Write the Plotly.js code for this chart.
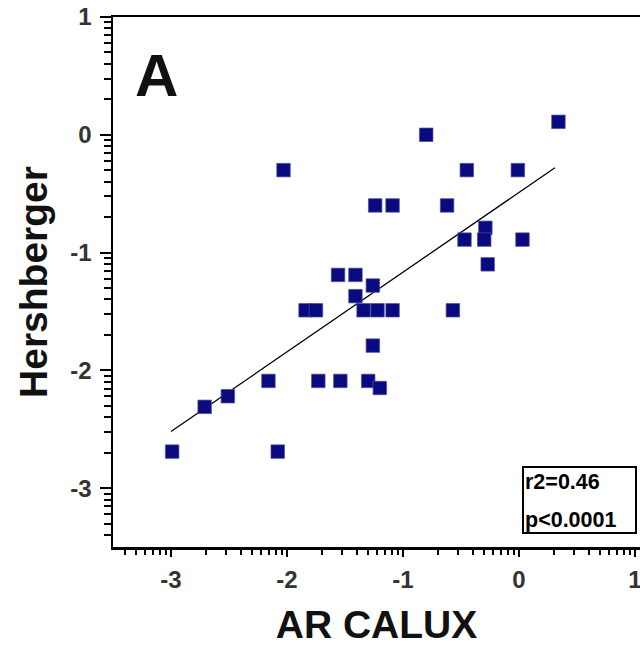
<!DOCTYPE html>
<html>
<head>
<meta charset="utf-8">
<script src="https://cdn.plot.ly/plotly-3.0.1.min.js"></script>
<style>html,body{margin:0;padding:0;background:#fff;}#chart{width:640px;height:646px;}</style>
</head>
<body>
<div id="chart"></div>
<script>
// Data
const calux = [0.34, -0.80, -2.03, -0.45, -0.01, -1.24, -1.09, -0.62, -0.29, -0.30, -0.47, 0.03, -0.27,
               -1.56, -1.41, -1.26, -1.41, -1.84, -1.75, -1.34, -1.22, -1.09, -0.57, -1.26,
               -2.16, -1.73, -1.54, -1.30, -1.20, -2.71, -2.51, -2.99, -2.08];
const hershberger = [0.11, 0.00, -0.30, -0.30, -0.30, -0.60, -0.60, -0.60, -0.79, -0.89, -0.89, -0.89, -1.10,
               -1.19, -1.19, -1.28, -1.37, -1.49, -1.49, -1.49, -1.49, -1.49, -1.49, -1.79,
               -2.09, -2.09, -2.09, -2.09, -2.15, -2.31, -2.22, -2.69, -2.69];
const fitX = [-3.00, 0.31];
const fitY = [-2.52, -0.28];
const xTicks = [-3, -2, -1, 0, 1];
const yTicks = [-3, -2, -1, 0, 1];
const statLines = ["r2=0.46", "p<0.0001"];
const panelLabel = "A";

function logMinor(lo, hi) {
  const out = [];
  for (let n = Math.floor(lo) - 1; n <= Math.ceil(hi); n++) {
    for (let k = 2; k <= 9; k++) {
      const v = n + Math.log10(k);
      if (v >= lo && v <= hi) out.push(v);
    }
  }
  return out;
}

const xRange = [-3.5, 1.043];
const yRange = [-3.5, 1.0];

const traces = [
  {
    x: fitX, y: fitY, type: 'scatter', mode: 'lines',
    line: {color: '#000', width: 1.3}, hoverinfo: 'skip', showlegend: false
  },
  {
    x: calux, y: hershberger, type: 'scatter', mode: 'markers',
    marker: {symbol: 'square', size: 13.5, color: '#0a0a80', line: {color: 'rgba(80,80,150,0.7)', width: 1}},
    showlegend: false
  }
];

const tickFont = {family: 'Liberation Sans, Arial, sans-serif', size: 24, color: '#333', weight: 'bold'};
const titleFont = {family: 'Liberation Sans, Arial, sans-serif', size: 39, color: '#111', weight: 'bold'};

const layout = {
  width: 640, height: 646,
  margin: {l: 113, r: 0, t: 17, b: 99, pad: 0},
  paper_bgcolor: '#fff', plot_bgcolor: '#fff',
  showlegend: false,
  xaxis: {
    range: xRange, tickmode: 'array', tickvals: xTicks, ticktext: xTicks.map(String),
    showgrid: false, zeroline: false, showline: true, linecolor: '#000', linewidth: 2.5, mirror: true,
    ticks: 'outside', ticklen: 7, tickwidth: 2, tickcolor: '#000',
    minor: {tickmode: 'array', tickvals: logMinor(xRange[0], xRange[1]), ticks: 'outside', ticklen: 5, tickwidth: 2, tickcolor: '#000', showgrid: false},
    tickfont: tickFont, ticklabeloverflow: 'allow', ticklabelstandoff: 3,
    title: {text: 'AR CALUX', font: titleFont, standoff: 22}
  },
  yaxis: {
    range: yRange, tickmode: 'array', tickvals: yTicks, ticktext: yTicks.map(String),
    showgrid: false, zeroline: false, showline: true, linecolor: '#000', linewidth: 2.5,
    ticks: 'outside', ticklen: 11, tickwidth: 2, tickcolor: '#000',
    minor: {tickmode: 'array', tickvals: logMinor(yRange[0], yRange[1]), ticks: 'outside', ticklen: 7, tickwidth: 2, tickcolor: '#000', showgrid: false},
    tickfont: tickFont, ticklabeloverflow: 'allow', ticklabelstandoff: 3,
    title: {text: 'Hershberger', font: titleFont, standoff: 11}
  },
  shapes: [
    {type: 'rect', xref: 'paper', yref: 'paper',
     x0: (523 - 113) / 527, x1: (636 - 113) / 527, y0: (547 - 533) / 530, y1: (547 - 467) / 530,
     line: {color: '#000', width: 2}, fillcolor: 'rgba(0,0,0,0)'}
  ],
  annotations: [
    {text: panelLabel, xref: 'paper', yref: 'paper', x: (133 - 113) / 527, y: (547 - 76) / 530,
     xanchor: 'left', yanchor: 'middle', showarrow: false,
     font: {family: 'Liberation Sans, Arial, sans-serif', size: 60, color: '#111', weight: 'bold'}},
    {text: statLines[0], xref: 'paper', yref: 'paper', x: (523 - 113) / 527, y: (547 - 482) / 530,
     xanchor: 'left', yanchor: 'middle', showarrow: false,
     font: {family: 'Liberation Sans, Arial, sans-serif', size: 21.5, color: '#000', weight: 'bold'}},
    {text: statLines[1], xref: 'paper', yref: 'paper', x: (523 - 113) / 527, y: (547 - 520) / 530,
     xanchor: 'left', yanchor: 'middle', showarrow: false,
     font: {family: 'Liberation Sans, Arial, sans-serif', size: 21.5, color: '#000', weight: 'bold'}}
  ]
};

Plotly.newPlot('chart', traces, layout, {staticPlot: true, displayModeBar: false});
</script>
</body>
</html>
